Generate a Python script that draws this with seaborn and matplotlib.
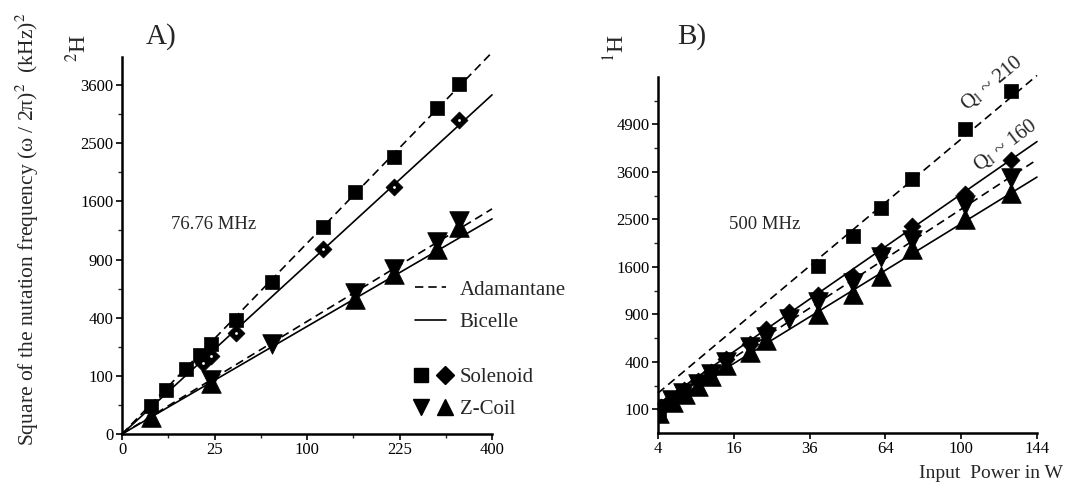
import numpy as np
import matplotlib
matplotlib.use("Agg")
import matplotlib.pyplot as plt
import seaborn as sns
from matplotlib.lines import Line2D
from matplotlib.legend_handler import HandlerTuple
from matplotlib.ticker import FixedLocator

# ---- panel A: 2H at 76.76 MHz (input power in W vs (omega/2pi)^2 in kHz^2)
a_sol_ada_x = [2.4, 5.7, 12, 17.8, 23, 38, 66, 118, 159, 216, 290, 332]
a_sol_ada_y = [23, 57, 124, 184, 238, 382, 683, 1265, 1728, 2262, 3140, 3620]
a_sol_bic_x = [19, 23, 38, 118, 216, 332]
a_sol_bic_y = [149, 179, 304, 1014, 1799, 2913]
a_zc_ada_x = [23, 66, 159, 216, 290, 332]
a_zc_ada_y = [86, 242, 587, 808, 1088, 1347]
a_zc_bic_x = [2.4, 23, 159, 216, 290, 332]
a_zc_bic_y = [9, 77, 542, 760, 1014, 1265]
# fitted slopes (kHz^2 per W)
a_slopes = {"sol_ada": 10.76, "sol_bic": 8.5, "zc_ada": 3.745, "zc_bic": 3.42}
a_xrange = [0, 400]

# ---- panel B: 1H at 500 MHz
b_sol_ada_x = [4.1, 38.7, 51, 62.3, 75.7, 102, 128]
b_sol_ada_y = [95, 1608, 2153, 2756, 3434, 4757, 5929]
b_sol_bic_x = [4.3, 5.6, 7.2, 9.4, 11.6, 14.5, 19.6, 23.6, 29.8, 38.7, 51, 62.3, 75.7, 102, 128]
b_sol_bic_y = [110, 150, 200, 255, 320, 420, 560, 726, 924, 1163, 1455, 1884, 2368, 3070, 3900]
b_zc_ada_x = [4.4, 5.6, 7.1, 9.4, 11.6, 14.5, 19.6, 23.6, 29.8, 38.7, 51, 62.3, 75.7, 102, 128]
b_zc_ada_y = [103, 145, 180, 237, 306, 396, 533, 634, 843, 1058, 1332, 1772, 2078, 2820, 3457]
b_zc_bic_x = [4.1, 5.8, 7.3, 9.4, 11.6, 14.5, 19.6, 23.6, 38.7, 51, 62.3, 75.7, 102, 128]
b_zc_bic_y = [85, 132, 177, 225, 290, 370, 490, 600, 906, 1177, 1455, 1915, 2506, 3097]
b_slopes = {"sol_ada": 44.8, "sol_bic": 30.6, "zc_ada": 27.2, "zc_bic": 24.1}
b_xrange = [4, 144]

a_xticks = [0, 25, 100, 225, 400]
a_xminor = [6.25, 56.25, 156.25, 306.25]
a_yticks = [0, 100, 400, 900, 1600, 2500, 3600]
a_yminor = [25, 225, 625, 1225, 2025, 3025]
b_xticks = [4, 16, 36, 64, 100, 144]
b_yticks = [100, 400, 900, 1600, 2500, 3600, 4900]
b_yminor = [225, 625, 1225, 2025, 3025, 4225, 5625]

sns.set_style("ticks")
plt.rcParams["font.family"] = ["Liberation Serif", "DejaVu Serif"]
plt.rcParams["mathtext.fontset"] = "stix"

DASH = (0, (5, 3))
LW = 1.2


def sqrt_fwd(v):
    return np.sqrt(np.clip(v, 0, None))


def style_axis(ax, xlim, ylim, xt, yt, xmin=None, ymin=None):
    ax.set_xscale("function", functions=(sqrt_fwd, np.square))
    ax.set_yscale("function", functions=(sqrt_fwd, np.square))
    ax.set_xlim(*xlim)
    ax.set_ylim(*ylim)
    ax.xaxis.set_major_locator(FixedLocator(xt))
    ax.yaxis.set_major_locator(FixedLocator(yt))
    ax.set_xticklabels([str(t) for t in xt])
    ax.set_yticklabels([str(t) for t in yt])
    if xmin:
        ax.xaxis.set_minor_locator(FixedLocator(xmin))
    if ymin:
        ax.yaxis.set_minor_locator(FixedLocator(ymin))
    for side in ["top", "right"]:
        ax.spines[side].set_visible(False)
    for side in ["left", "bottom"]:
        ax.spines[side].set_linewidth(1.8)
        ax.spines[side].set_color("black")
    ax.tick_params(which="major", direction="out", length=4, width=1.2,
                   labelsize=12, pad=2, colors="black")
    ax.tick_params(which="minor", direction="out", length=3, width=1.0)
    ax.set_xlabel("")
    ax.set_ylabel("")
    ax.set_facecolor("white")


def fit_line(ax, xr, k, dashed):
    ys = [k * v for v in xr]
    sns.lineplot(x=xr, y=ys, ax=ax, color="black", lw=LW,
                 linestyle=DASH if dashed else "-", clip_on=False)


def pts(ax, x, y, marker, s):
    sns.scatterplot(x=x, y=y, ax=ax, marker=marker, s=s, color="black",
                    edgecolor="black", linewidth=0.5, zorder=3)


fig = plt.figure(figsize=(10.65, 4.82), dpi=100)
axA = fig.add_axes([0.1146, 0.0996, 0.3474, 0.782])
axB = fig.add_axes([0.6178, 0.1017, 0.3559, 0.7386])

# ---- panel A
fit_line(axA, a_xrange, a_slopes["sol_ada"], True)
fit_line(axA, a_xrange, a_slopes["sol_bic"], False)
fit_line(axA, a_xrange, a_slopes["zc_ada"], True)
fit_line(axA, a_xrange, a_slopes["zc_bic"], False)
pts(axA, a_sol_ada_x, a_sol_ada_y, "s", 115)
pts(axA, a_sol_bic_x, a_sol_bic_y, "D", 75)
sns.scatterplot(x=a_sol_bic_x, y=a_sol_bic_y, ax=axA, marker="o", s=4,
                color="white", linewidth=0, zorder=4)
pts(axA, a_zc_ada_x, a_zc_ada_y, "v", 200)
pts(axA, a_zc_bic_x, a_zc_bic_y, "^", 200)
style_axis(axA, (0, 400), (0, 4200), a_xticks, a_yticks, a_xminor, a_yminor)
axA.text(24.7, 1296, "76.76 MHz", fontsize=13.5, ha="center", va="center")

# ---- panel B
fit_line(axB, b_xrange, b_slopes["sol_ada"], True)
fit_line(axB, b_xrange, b_slopes["sol_bic"], False)
fit_line(axB, b_xrange, b_slopes["zc_ada"], True)
fit_line(axB, b_xrange, b_slopes["zc_bic"], False)
pts(axB, b_sol_ada_x, b_sol_ada_y, "s", 115)
pts(axB, b_sol_bic_x, b_sol_bic_y, "D", 75)
pts(axB, b_zc_ada_x, b_zc_ada_y, "v", 200)
pts(axB, b_zc_bic_x, b_zc_bic_y, "^", 200)
style_axis(axB, (4, 144), (25, 6400), b_xticks, b_yticks, None, b_yminor)
axB.text(23.2, 2390, "500 MHz", fontsize=13.5, ha="center", va="center")
axB.text(117, 6200, r"Q$_\mathrm{l}$ ~ 210", fontsize=15, rotation=40,
         ha="center", va="center", rotation_mode="anchor")
axB.text(124.5, 4300, r"Q$_\mathrm{l}$ ~ 160", fontsize=15, rotation=37,
         ha="center", va="center", rotation_mode="anchor")

# ---- legends in panel A
line_handles = [Line2D([], [], color="black", lw=LW, linestyle=DASH),
                Line2D([], [], color="black", lw=LW)]
leg1 = axA.legend(line_handles, ["Adamantane", "Bicelle"], frameon=False,
                  loc="upper left", bbox_to_anchor=(0.3895, 0.419),
                  bbox_transform=fig.transFigure, fontsize=15,
                  handlelength=1.5, handletextpad=0.65, labelspacing=0.62,
                  borderpad=0, borderaxespad=0)
axA.add_artist(leg1)


def mk(m, ms):
    return Line2D([], [], marker=m, color="black", linestyle="none", markersize=ms)


marker_handles = [(mk("s", 10), mk("D", 9)), (mk("v", 12), mk("^", 12))]
axA.legend(marker_handles, ["Solenoid", "Z-Coil"], frameon=False,
           loc="upper left", bbox_to_anchor=(0.3895, 0.238),
           bbox_transform=fig.transFigure, fontsize=15,
           handler_map={tuple: HandlerTuple(ndivide=None, pad=0.6)},
           handlelength=1.7, handletextpad=0.45, labelspacing=0.6,
           borderpad=0, borderaxespad=0)

# ---- figure texts
fig.text(0.151, 0.925, "A)", fontsize=21, ha="center", va="center")
fig.text(0.65, 0.925, "B)", fontsize=21, ha="center", va="center")
fig.text(0.074, 0.9, "$^2$H", fontsize=17, rotation=90, ha="center", va="center")
fig.text(0.579, 0.9, "$^1$H", fontsize=17, rotation=90, ha="center", va="center")
fig.text(0.026, 0.525, "Square of the nutation frequency (\u03c9 / 2\u03c0)$^2$  (kHz)$^2$",
         fontsize=15.5, rotation=90, ha="center", va="center")
fig.text(0.998, 0.018, "Input  Power in W", fontsize=14, ha="right", va="center")

fig.savefig("out.png", dpi=100, facecolor="white")
